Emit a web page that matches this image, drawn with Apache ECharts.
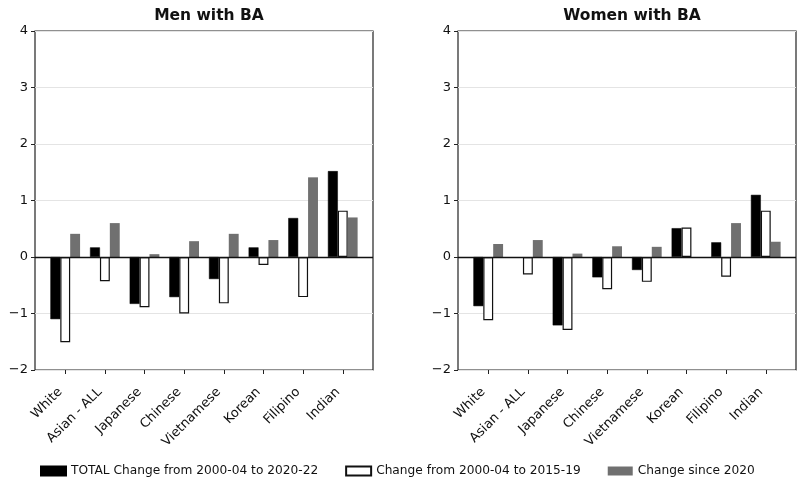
<!DOCTYPE html>
<html><head><meta charset="utf-8">
<script src="https://cdn.jsdelivr.net/npm/echarts@6/dist/echarts.min.js"></script>
<style>html,body{margin:0;padding:0;background:#fff}#c{width:800px;height:478px}</style>
</head><body><div id="c"></div>
<script>
const categories = ['White','Asian - ALL','Japanese','Chinese','Vietnamese','Korean','Filipino','Indian'];
const seriesNames = ['TOTAL Change from 2000-04 to 2020-22','Change from 2000-04 to 2015-19','Change since 2020'];
const menTotal   = [-1.10, 0.17, -0.83, -0.71, -0.39, 0.17, 0.69, 1.52];
const men2015    = [-1.51, -0.43, -0.89, -1.00, -0.82, -0.14, -0.71, 0.82];
const men2020    = [0.41, 0.60, 0.05, 0.28, 0.41, 0.30, 1.41, 0.70];
const womenTotal = [-0.87, null, -1.21, -0.36, -0.23, 0.51, 0.26, 1.10];
const women2015  = [-1.12, -0.31, -1.29, -0.57, -0.44, 0.52, -0.35, 0.82];
const women2020  = [0.23, 0.30, 0.06, 0.19, 0.18, null, 0.60, 0.27];
const yTicks = [-2,-1,0,1,2,3,4];
const titles = ['Men with BA','Women with BA'];

const FONT = 'DejaVu Sans';
const idx = categories.map((c,i)=>i);
const pairs = arr => arr.map((v,i)=>[i, v === null ? '-' : v]);
const barW = 9.9;
const grids = [
  {left:35, top:31, width:338, height:339, show:true, borderColor:'#222', borderWidth:1.2, backgroundColor:'transparent'},
  {left:458, top:31, width:338, height:339, show:true, borderColor:'#222', borderWidth:1.2, backgroundColor:'transparent'}
];
const xAxes = [0,1].map(g=>({
  type:'value', gridIndex:g, min:-0.7625, max:7.7625,
  axisLine:{show:false, onZero:false}, splitLine:{show:false},
  axisTick:{show:true, customValues:idx, length:4, lineStyle:{color:'#222', width:1}},
  axisLabel:{show:true, customValues:idx, rotate:45, margin:15, padding:[0,7,0,0], fontFamily:FONT, fontSize:13, color:'#111',
    formatter:v=>categories[Math.round(v)]}
}));
const yAxes = [0,1].map(g=>({
  type:'value', gridIndex:g, min:yTicks[0], max:yTicks[yTicks.length-1], interval:1,
  axisLine:{show:false, onZero:false},
  axisTick:{show:true, length:4, lineStyle:{color:'#222', width:1}},
  axisLabel:{fontFamily:FONT, fontSize:13, color:'#111', margin:7, formatter:v=>String(v).replace('-','\u2212')},
  splitLine:{show:true, lineStyle:{color:'#e4e4e4', width:1}}
}));
function mk(name, data, g, style, zero){
  const s = {name, type:'bar', xAxisIndex:g, yAxisIndex:g, data:pairs(data), barWidth:barW, barGap:'0%',
    itemStyle:style, emphasis:{disabled:true}, animation:false};
  if(zero){
    s.markLine = {silent:true, symbol:['none','none'], label:{show:false}, z:10,
      lineStyle:{color:'#111', width:1.3, type:'solid'}, data:[{yAxis:0}]};
  }
  return s;
}
const blackS = {color:'#000', borderColor:'#000', borderWidth:0.5};
const whiteS = {color:'#fff', borderColor:'#111', borderWidth:1.2};
const greyS  = {color:'#707070'};
const series = [
  mk(seriesNames[0], menTotal, 0, blackS, true),
  mk(seriesNames[1], men2015, 0, whiteS),
  mk(seriesNames[2], men2020, 0, greyS),
  mk(seriesNames[0], womenTotal, 1, blackS, true),
  mk(seriesNames[1], women2015, 1, whiteS),
  mk(seriesNames[2], women2020, 1, greyS)
];
const chart = echarts.init(document.getElementById('c'), null, {renderer:'canvas'});
chart.setOption({
  animation:false,
  backgroundColor:'#fff',
  title: titles.map((t,i)=>({text:t, left:[204,627][i], top:3, textAlign:'center',
    textStyle:{fontFamily:FONT, fontSize:15.5, fontWeight:'bold', color:'#111'}})),
  legend:{left:35, top:460, itemWidth:25, itemHeight:9, itemGap:27, icon:'rect',
    textStyle:{fontFamily:FONT, fontSize:12.2, color:'#111'},
    data:seriesNames.map(n=>({name:n}))},
  grid:grids, xAxis:xAxes, yAxis:yAxes, series
});
</script></body></html>
